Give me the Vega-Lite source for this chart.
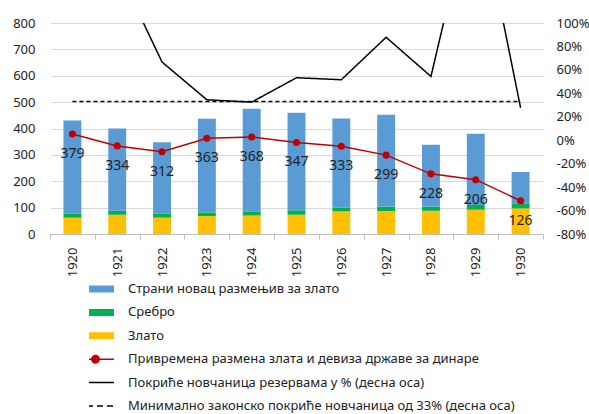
{
  "$schema": "https://vega.github.io/schema/vega-lite/v6.json",
  "width": 493,
  "height": 211,
  "autosize": {"type": "none"},
  "padding": {"left": 50, "top": 23, "right": 46, "bottom": 180},
  "config": {
    "view": {"stroke": null},
    "font": "Noto Sans",
    "axis": {"labelColor": "#222222", "labelFontSize": 12, "title": null},
    "legend": {"labelColor": "#222222"}
  },
  "datasets": {
    "bars": [
      {"year": 1920, "series": "Злато", "value": 62},
      {"year": 1920, "series": "Сребро", "value": 16},
      {"year": 1920, "series": "Страни новац размењив за злато", "value": 352},
      {"year": 1921, "series": "Злато", "value": 73},
      {"year": 1921, "series": "Сребро", "value": 15},
      {"year": 1921, "series": "Страни новац размењив за злато", "value": 312},
      {"year": 1922, "series": "Злато", "value": 62},
      {"year": 1922, "series": "Сребро", "value": 16},
      {"year": 1922, "series": "Страни новац размењив за злато", "value": 270},
      {"year": 1923, "series": "Злато", "value": 68},
      {"year": 1923, "series": "Сребро", "value": 14},
      {"year": 1923, "series": "Страни новац размењив за злато", "value": 355},
      {"year": 1924, "series": "Злато", "value": 70},
      {"year": 1924, "series": "Сребро", "value": 16},
      {"year": 1924, "series": "Страни новац размењив за злато", "value": 389},
      {"year": 1925, "series": "Злато", "value": 73},
      {"year": 1925, "series": "Сребро", "value": 17},
      {"year": 1925, "series": "Страни новац размењив за злато", "value": 370},
      {"year": 1926, "series": "Злато", "value": 86},
      {"year": 1926, "series": "Сребро", "value": 15},
      {"year": 1926, "series": "Страни новац размењив за злато", "value": 337},
      {"year": 1927, "series": "Злато", "value": 87},
      {"year": 1927, "series": "Сребро", "value": 17},
      {"year": 1927, "series": "Страни новац размењив за злато", "value": 348},
      {"year": 1928, "series": "Злато", "value": 88},
      {"year": 1928, "series": "Сребро", "value": 16},
      {"year": 1928, "series": "Страни новац размењив за злато", "value": 234},
      {"year": 1929, "series": "Злато", "value": 92},
      {"year": 1929, "series": "Сребро", "value": 18},
      {"year": 1929, "series": "Страни новац размењив за злато", "value": 270},
      {"year": 1930, "series": "Злато", "value": 97},
      {"year": 1930, "series": "Сребро", "value": 17},
      {"year": 1930, "series": "Страни новац размењив за злато", "value": 121}
    ],
    "red": [
      {"year": 1920, "series": "Привремена размена злата и девиза државе за динаре", "value": 379},
      {"year": 1921, "series": "Привремена размена злата и девиза државе за динаре", "value": 334},
      {"year": 1922, "series": "Привремена размена злата и девиза државе за динаре", "value": 312},
      {"year": 1923, "series": "Привремена размена злата и девиза државе за динаре", "value": 363},
      {"year": 1924, "series": "Привремена размена злата и девиза државе за динаре", "value": 368},
      {"year": 1925, "series": "Привремена размена злата и девиза државе за динаре", "value": 347},
      {"year": 1926, "series": "Привремена размена злата и девиза државе за динаре", "value": 333},
      {"year": 1927, "series": "Привремена размена злата и девиза државе за динаре", "value": 299},
      {"year": 1928, "series": "Привремена размена злата и девиза државе за динаре", "value": 228},
      {"year": 1929, "series": "Привремена размена злата и девиза државе за динаре", "value": 206},
      {"year": 1930, "series": "Привремена размена злата и девиза државе за динаре", "value": 126}
    ],
    "cover": [
      {"year": 1920, "series": "Покриће новчаница резервама у % (десна оса)", "pct": 200},
      {"year": 1921, "series": "Покриће новчаница резервама у % (десна оса)", "pct": 147},
      {"year": 1922, "series": "Покриће новчаница резервама у % (десна оса)", "pct": 66.7},
      {"year": 1923, "series": "Покриће новчаница резервама у % (десна оса)", "pct": 34.5},
      {"year": 1924, "series": "Покриће новчаница резервама у % (десна оса)", "pct": 32.5},
      {"year": 1925, "series": "Покриће новчаница резервама у % (десна оса)", "pct": 53.3},
      {"year": 1926, "series": "Покриће новчаница резервама у % (десна оса)", "pct": 51.6},
      {"year": 1927, "series": "Покриће новчаница резервама у % (десна оса)", "pct": 87.8},
      {"year": 1928, "series": "Покриће новчаница резервама у % (десна оса)", "pct": 54.4},
      {"year": 1929, "series": "Покриће новчаница резервама у % (десна оса)", "pct": 217},
      {"year": 1930, "series": "Покриће новчаница резервама у % (десна оса)", "pct": 27.7},
      {"year": 1920, "series": "Минимално законско покриће новчаница од 33% (десна оса)", "pct": 33},
      {"year": 1921, "series": "Минимално законско покриће новчаница од 33% (десна оса)", "pct": 33},
      {"year": 1922, "series": "Минимално законско покриће новчаница од 33% (десна оса)", "pct": 33},
      {"year": 1923, "series": "Минимално законско покриће новчаница од 33% (десна оса)", "pct": 33},
      {"year": 1924, "series": "Минимално законско покриће новчаница од 33% (десна оса)", "pct": 33},
      {"year": 1925, "series": "Минимално законско покриће новчаница од 33% (десна оса)", "pct": 33},
      {"year": 1926, "series": "Минимално законско покриће новчаница од 33% (десна оса)", "pct": 33},
      {"year": 1927, "series": "Минимално законско покриће новчаница од 33% (десна оса)", "pct": 33},
      {"year": 1928, "series": "Минимално законско покриће новчаница од 33% (десна оса)", "pct": 33},
      {"year": 1929, "series": "Минимално законско покриће новчаница од 33% (десна оса)", "pct": 33},
      {"year": 1930, "series": "Минимално законско покриће новчаница од 33% (десна оса)", "pct": 33}
    ]
  },
  "encoding": {
    "x": {
      "field": "year",
      "type": "ordinal",
      "scale": {"paddingInner": 0, "paddingOuter": 0},
      "axis": {
        "labelAngle": -90,
        "tickBand": "extent",
        "tickColor": "#BFBFBF",
        "domainColor": "#BFBFBF",
        "tickSize": 5,
        "labelPadding": 8,
        "labelFontSize": 13
      }
    }
  },
  "layer": [
    {
      "encoding": {
        "y": {
          "type": "quantitative",
          "scale": {"domain": [0, 800], "nice": false},
          "axis": {
            "orient": "left",
            "values": [0, 100, 200, 300, 400, 500, 600, 700, 800],
            "labelOverlap": false,
            "grid": true,
            "gridColor": "#D9D9D9",
            "domain": false,
            "ticks": false,
            "labelPadding": 15,
            "labelFontSize": 13
          }
        }
      },
      "layer": [
        {
          "data": {"name": "bars"},
          "mark": {"type": "bar", "width": {"band": 0.4}},
          "encoding": {
            "y": {
              "field": "value",
              "type": "quantitative",
              "aggregate": "sum",
              "stack": "zero"
            },
            "order": {"field": "series", "sort": "ascending"},
            "color": {
              "field": "series",
              "type": "nominal",
              "scale": {
                "domain": [
                  "Страни новац размењив за злато",
                  "Сребро",
                  "Злато",
                  "Привремена размена злата и девиза државе за динаре",
                  "Покриће новчаница резервама у % (десна оса)",
                  "Минимално законско покриће новчаница од 33% (десна оса)"
                ],
                "range": ["#5B9BD5", "#00B050", "#FFC000", "#C00000", "#000000", "#000000"]
              },
              "legend": {
                "orient": "none",
                "legendX": 39,
                "legendY": 258,
                "direction": "vertical",
                "title": null,
                "labelFontSize": 13,
                "labelLimit": 600,
                "clipHeight": 16,
                "rowPadding": 7.4,
                "symbolSize": 1369,
                "labelOffset": 26,
                "encode": {
                  "symbols": {
                    "update": {
                      "shape": {"signal": "datum.value == 'Привремена размена злата и девиза државе за динаре' ? 'M-1,0H1M-0.2,0A0.2,0.2,0,1,1,0.2,0A0.2,0.2,0,1,1,-0.2,0Z' : 'stroke'"},
                      "size": {"value": 1369},
                      "stroke": {"scale": "color", "field": "value"},
                      "fill": {"scale": "color", "field": "value"},
                      "strokeWidth": {"signal": "indexof(['Страни новац размењив за злато','Сребро','Злато'], datum.value) >= 0 ? 7 : 1.5"},
                      "strokeDash": {"signal": "datum.value == 'Минимално законско покриће новчаница од 33% (десна оса)' ? [6,4] : [1,0]"},
                      "opacity": {"value": 1}
                    }
                  }
                }
              }
            }
          }
        },
        {
          "data": {"name": "red"},
          "mark": {"type": "line", "strokeWidth": 1.5, "point": {"filled": true, "size": 50}},
          "encoding": {
            "y": {"field": "value", "type": "quantitative"},
            "color": {"field": "series", "type": "nominal"}
          }
        },
        {
          "data": {"name": "red"},
          "mark": {"type": "text", "dy": 20, "fontSize": 14, "color": "#222222", "baseline": "middle"},
          "encoding": {
            "y": {"field": "value", "type": "quantitative"},
            "text": {"field": "value", "type": "quantitative"}
          }
        }
      ]
    },
    {
      "data": {"name": "cover"},
      "mark": {"type": "line", "clip": true, "strokeWidth": 1.5},
      "encoding": {
        "y": {
          "field": "pct",
          "type": "quantitative",
          "scale": {"domain": [-80, 100], "nice": false},
          "axis": {
            "orient": "right",
            "values": [-80, -60, -40, -20, 0, 20, 40, 60, 80, 100],
            "labelOverlap": false,
            "grid": false,
            "domain": false,
            "ticks": false,
            "labelPadding": 13,
            "labelFontSize": 13,
            "labelExpr": "datum.value + '%'"
          }
        },
        "color": {"field": "series", "type": "nominal"},
        "strokeDash": {
          "field": "series",
          "type": "nominal",
          "scale": {
            "domain": ["Покриће новчаница резервама у % (десна оса)", "Минимално законско покриће новчаница од 33% (десна оса)"],
            "range": [[1, 0], [4, 3]]
          },
          "legend": null
        },
        "strokeWidth": {
          "field": "series",
          "type": "nominal",
          "scale": {
            "domain": ["Покриће новчаница резервама у % (десна оса)", "Минимално законско покриће новчаница од 33% (десна оса)"],
            "range": [1.5, 2]
          },
          "legend": null
        }
      }
    }
  ],
  "resolve": {"scale": {"y": "independent"}}
}
